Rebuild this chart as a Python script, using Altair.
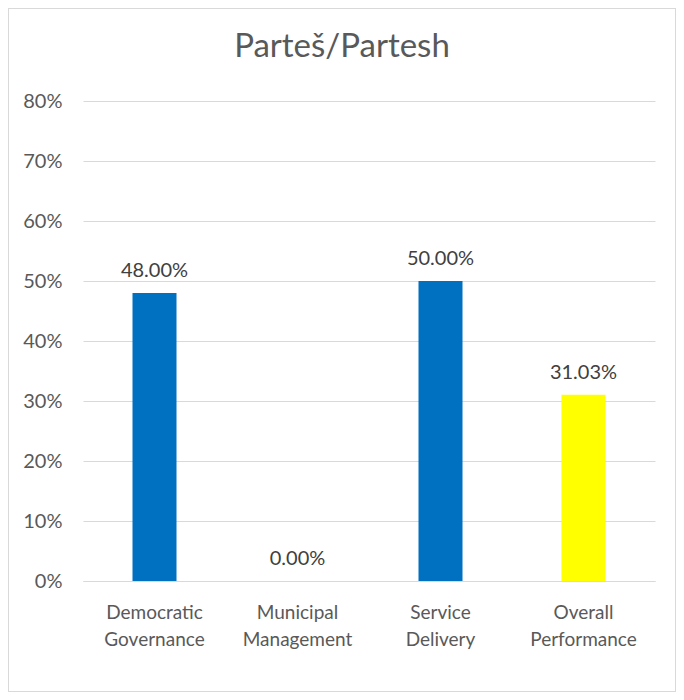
import altair as alt
import pandas as pd

categories = ["Democratic Governance", "Municipal Management", "Service Delivery", "Overall Performance"]
values = [0.48, 0.0, 0.50, 0.3103]
colors = ["#0070C0", "#0070C0", "#0070C0", "#FFFF00"]
y_ticks = [0, 0.1, 0.2, 0.3, 0.4, 0.5, 0.6, 0.7, 0.8]
title_text = ["Parteš/Partesh"]

df = pd.DataFrame({"category": categories, "value": values})
tdf = pd.DataFrame({"t": title_text})

FONT = "Lato"
W, H = 572, 480

x_enc = alt.X("category:N", sort=categories, title=None,
              scale=alt.Scale(paddingInner=0, paddingOuter=0),
              axis=alt.Axis(labelAngle=0, labelExpr="split(datum.label, ' ')",
                            labelFontSize=19, labelColor="#595959", labelFont=FONT,
                            labelLineHeight=27, labelPadding=22, ticks=False,
                            domainColor="#D9D9D9", domainWidth=1))
y_enc = alt.Y("value:Q", title=None,
              scale=alt.Scale(domain=[0, 0.8], nice=False),
              axis=alt.Axis(values=y_ticks, format=".0%", labelFontSize=20,
                            labelColor="#595959", labelFont=FONT, labelPadding=21,
                            ticks=False, domain=False, gridColor="#D9D9D9", gridWidth=1))

border = alt.Chart(df).mark_rect(fill=None, stroke="#D9D9D9", strokeWidth=1).encode(
    x=alt.value(-74.5), x2=alt.value(W + 20.5), y=alt.value(-92.5), y2=alt.value(H + 110.5)
)

title = alt.Chart(tdf).mark_text(fontSize=33, font=FONT, color="#595959",
                                 baseline="middle", align="center").encode(
    x=alt.value(259), y=alt.value(-54), text="t:N"
)

bars = alt.Chart(df).mark_bar(size=44).encode(
    x=x_enc, y=y_enc,
    color=alt.Color("category:N", scale=alt.Scale(domain=categories, range=colors), legend=None),
)

labels = alt.Chart(df).mark_text(baseline="alphabetic", dy=-16, fontSize=20, font=FONT,
                                 color="#404040").encode(
    x=alt.X("category:N", sort=categories),
    y="value:Q",
    text=alt.Text("value:Q", format=".2%"),
)

chart = alt.layer(border, title, bars, labels).properties(
    width=W, height=H,
    autosize=alt.AutoSizeParams(type="none"),
    padding={"left": 75, "top": 93, "right": 21, "bottom": 111},
).configure(background="white").configure_view(stroke=None, strokeWidth=0)

chart.save("out.html", embed_options={"renderer": "svg", "actions": False})
